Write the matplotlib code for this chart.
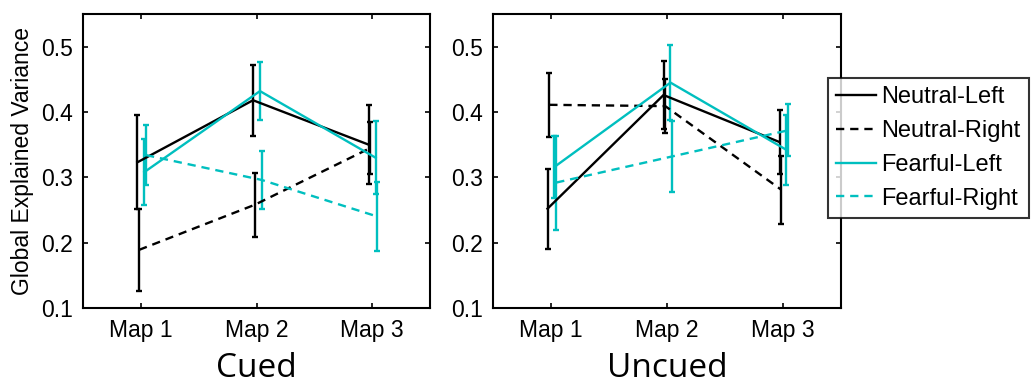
import numpy as np
import matplotlib.pyplot as plt

##### Data
maps = ['Map 1', 'Map 2', 'Map 3']
conditions = ['Cued', 'Uncued']
series = ['Neutral-Left', 'Neutral-Right', 'Fearful-Left', 'Fearful-Right']

# means and error bar half-lengths per series, one value per map
cued_mean = {
    'Neutral-Left':  [0.323, 0.418, 0.350],
    'Neutral-Right': [0.189, 0.258, 0.345],
    'Fearful-Left':  [0.308, 0.432, 0.330],
    'Fearful-Right': [0.334, 0.296, 0.240],
}
cued_err = {
    'Neutral-Left':  [0.072, 0.054, 0.060],
    'Neutral-Right': [0.063, 0.049, 0.040],
    'Fearful-Left':  [0.050, 0.044, 0.056],
    'Fearful-Right': [0.046, 0.045, 0.053],
}
uncued_mean = {
    'Neutral-Left':  [0.252, 0.426, 0.354],
    'Neutral-Right': [0.411, 0.409, 0.281],
    'Fearful-Left':  [0.316, 0.445, 0.342],
    'Fearful-Right': [0.292, 0.332, 0.372],
}
uncued_err = {
    'Neutral-Left':  [0.061, 0.052, 0.049],
    'Neutral-Right': [0.049, 0.041, 0.052],
    'Fearful-Left':  [0.047, 0.058, 0.053],
    'Fearful-Right': [0.072, 0.054, 0.040],
}

colors = {'Neutral-Left': 'black', 'Neutral-Right': 'black',
          'Fearful-Left': '#00BFBF', 'Fearful-Right': '#00BFBF'}
styles = {'Neutral-Left': '-', 'Neutral-Right': '--',
          'Fearful-Left': '-', 'Fearful-Right': '--'}
offsets = {'Neutral-Left': -0.03, 'Neutral-Right': -0.015,
           'Fearful-Left': 0.03, 'Fearful-Right': 0.045}

plt.rcParams['font.family'] = ['Liberation Sans', 'DejaVu Sans']

fig = plt.figure(figsize=(10.34, 3.83), dpi=100)
ax1 = fig.add_axes([83/1034, 75/383, 347/1034, 294/383])
ax2 = fig.add_axes([493/1034, 75/383, 348/1034, 294/383])

x = np.arange(1, 4)
handles = []
for ax, cond, means, errs in [(ax1, 'Cued', cued_mean, cued_err),
                              (ax2, 'Uncued', uncued_mean, uncued_err)]:
    for s in series:
        xs = x + offsets[s]
        eb = ax.errorbar(xs, means[s], yerr=errs[s], color=colors[s],
                         linestyle=styles[s], linewidth=1.7, elinewidth=1.7,
                         capsize=2.2, capthick=1.7)
        if styles[s] == '--':
            eb[0].set_dashes((3.5, 2.5))
        if ax is ax1:
            handles.append(eb[0])
    ax.set_xlim(0.5, 3.5)
    ax.set_ylim(0.1, 0.55)
    ax.set_xticks(x)
    ax.set_xticklabels(maps)
    ax.set_yticks([0.1, 0.2, 0.3, 0.4, 0.5])
    ax.tick_params(direction='in', top=True, right=True, length=3.5,
                   width=1.2, labelsize=16.5, pad=8)
    ax.tick_params(axis='y', pad=7)
    for sp in ax.spines.values():
        sp.set_linewidth(1.5)
    ax.set_xlabel(cond, fontsize=24, family='Open Sans', labelpad=7)

ax1.set_ylabel('Global Explained Variance', fontsize=16.5, labelpad=5)

leg = fig.legend(handles, series, loc='upper left',
                 bbox_to_anchor=(828/1034, 1 - 78/383), fontsize=17,
                 frameon=True, fancybox=False, borderaxespad=0,
                 handlelength=1.7, handletextpad=0.2, labelspacing=0.5,
                 borderpad=0.35)
leg.get_frame().set_edgecolor('black')
leg.get_frame().set_linewidth(1.5)
leg.set_zorder(10)

plt.savefig('out.png', dpi=100)
plt.close()
